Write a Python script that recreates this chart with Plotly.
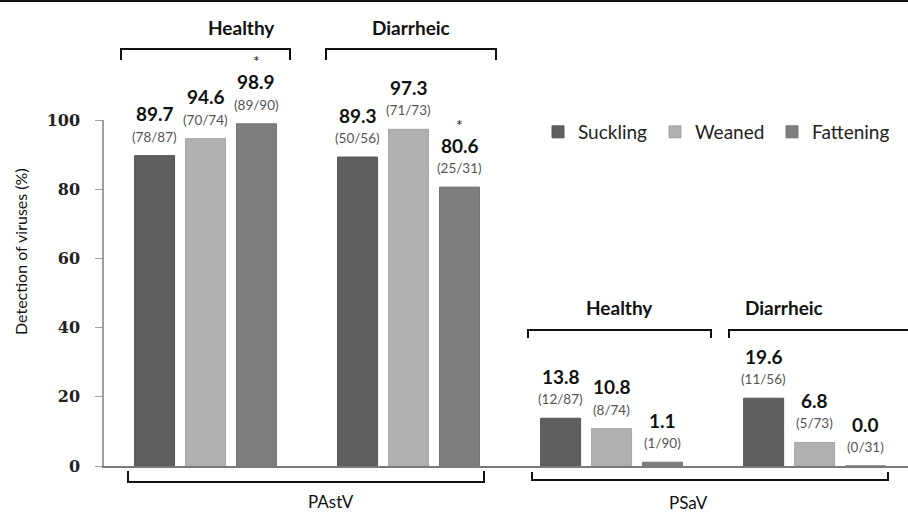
import plotly.graph_objects as go

# ---- data ----
groups = ["PAstV Healthy", "PAstV Diarrheic", "PSaV Healthy", "PSaV Diarrheic"]
series_names = ["Suckling", "Weaned", "Fattening"]
suckling = [89.7, 89.3, 13.8, 19.6]
weaned = [94.6, 97.3, 10.8, 6.8]
fattening = [98.9, 80.6, 1.1, 0.0]
suckling_frac = ["(78/87)", "(50/56)", "(12/87)", "(11/56)"]
weaned_frac = ["(70/74)", "(71/73)", "(8/74)", "(5/73)"]
fattening_frac = ["(89/90)", "(25/31)", "(1/90)", "(0/31)"]
fattening_star = [True, True, False, False]
y_ticks = [0, 20, 40, 60, 80, 100]

colors = ["#5f5f5f", "#b0b0b0", "#7e7e7e"]
outline = ["#555555", "#a4a4a4", "#747474"]

# ---- layout geometry ----
W, H = 908, 513
ML, MR, MT, MB = 104, 0, 120, 47
PW, PH = W - ML - MR, H - MT - MB
step = 0.251      # spacing between bar centres within a group (x units)
bar_w = 0.197

def px_x(px):
    return (px - ML) / PW

def px_y(py):
    return (H - MB - py) / PH

gx = list(range(len(groups)))
values = [suckling, weaned, fattening]
fracs = [suckling_frac, weaned_frac, fattening_frac]

fig = go.Figure()
for i, (name, vals) in enumerate(zip(series_names, values)):
    xs = [g + (i - 1) * step for g in gx]
    fig.add_trace(go.Bar(
        x=xs, y=vals, name=name, width=bar_w,
        marker=dict(color=colors[i], line=dict(width=1, color=outline[i])),
        hoverinfo="y+name",
    ))

annotations = []
for i, vals in enumerate(values):
    for g, v in zip(gx, vals):
        x = g + (i - 1) * step
        annotations.append(dict(
            x=x, y=v, xref="x", yref="y", text="<b>%.1f</b>" % v,
            showarrow=False, yanchor="middle", yshift=42,
            font=dict(family="Lato", size=19, color="#111111")))
        annotations.append(dict(
            x=x, y=v, xref="x", yref="y", text=fracs[i][g],
            showarrow=False, yanchor="middle", yshift=19,
            font=dict(family="Lato", size=13.5, color="#555555")))
for g, star in zip(gx, fattening_star):
    if star:
        v = fattening[g]
        annotations.append(dict(
            x=g + step, y=v, xref="x", yref="y", text="*",
            showarrow=False, yanchor="middle", yshift=63,
            font=dict(family="Lato", size=16, color="#222222")))

shapes = []
line_style = dict(color="#111111", width=2)

def bracket(x0, x1, y_line, y_tip, label, ly, size, bold):
    shapes.append(dict(type="path", xref="paper", yref="paper",
                       path="M %f,%f L %f,%f L %f,%f L %f,%f" % (
                           px_x(x0), px_y(y_tip), px_x(x0), px_y(y_line),
                           px_x(x1), px_y(y_line), px_x(x1), px_y(y_tip)),
                       line=line_style))
    annotations.append(dict(
        x=px_x((x0 + x1) / 2), y=px_y(ly), xref="paper", yref="paper",
        text=("<b>%s</b>" % label) if bold else label, showarrow=False,
        yanchor="middle", font=dict(family="Lato", size=size, color="#111111")))

# top group brackets
bracket(121, 290, 49, 60, "Healthy", 27, 19, True)
bracket(326, 496, 49, 60, "Diarrheic", 27, 19, True)
bracket(528, 711, 330, 338, "Healthy", 307, 19, True)
bracket(729, 920, 330, 338, "Diarrheic", 307, 19, True)
# bottom virus brackets
bracket(128, 484, 482, 471, "PAstV", 501, 17, False)
bracket(532, 888, 480, 472, "PSaV", 502, 17, False)

# y-axis title
annotations.append(dict(
    x=px_x(20), y=px_y(252), xref="paper", yref="paper",
    text="Detection of viruses (%)", textangle=-90, showarrow=False,
    xanchor="center", yanchor="middle",
    font=dict(family="Lato", size=16, color="#111111")))

# top border line
shapes.append(dict(type="line", xref="paper", yref="paper",
                   x0=px_x(0), x1=px_x(W), y0=px_y(1), y1=px_y(1),
                   line=dict(color="#111111", width=2)))

fig.update_layout(
    width=W, height=H,
    margin=dict(l=ML, r=MR, t=MT, b=MB, pad=0),
    paper_bgcolor="white", plot_bgcolor="white",
    barmode="overlay",
    showlegend=True,
    legend=dict(orientation="h", x=px_x(538), y=px_y(132), xanchor="left",
                yanchor="middle", font=dict(family="Lato", size=19, color="#222222"),
                itemwidth=30, entrywidth=72, traceorder="normal",
                bgcolor="rgba(0,0,0,0)"),
    xaxis=dict(range=[-0.5, 3.46], showticklabels=False, ticks="",
               showgrid=False, zeroline=False, showline=True,
               linecolor="#7a7a7a", linewidth=1.5, fixedrange=True),
    yaxis=dict(range=[0, 100], tickvals=y_ticks, ticks="outside", ticklen=7,
               tickcolor="#a0a0a0", tickwidth=1.2,
               showgrid=False, zeroline=False, showline=True,
               linecolor="#a0a0a0", linewidth=1.5,
               ticklabelstandoff=12,
               tickfont=dict(family="DejaVu Serif", size=16, color="#222222",
                             weight="bold"),
               fixedrange=True),
    shapes=shapes,
    annotations=annotations,
)

fig.write_html("out.html", config={"displayModeBar": False},
               post_script="document.body.style.margin='0';document.body.style.overflow='hidden';")
